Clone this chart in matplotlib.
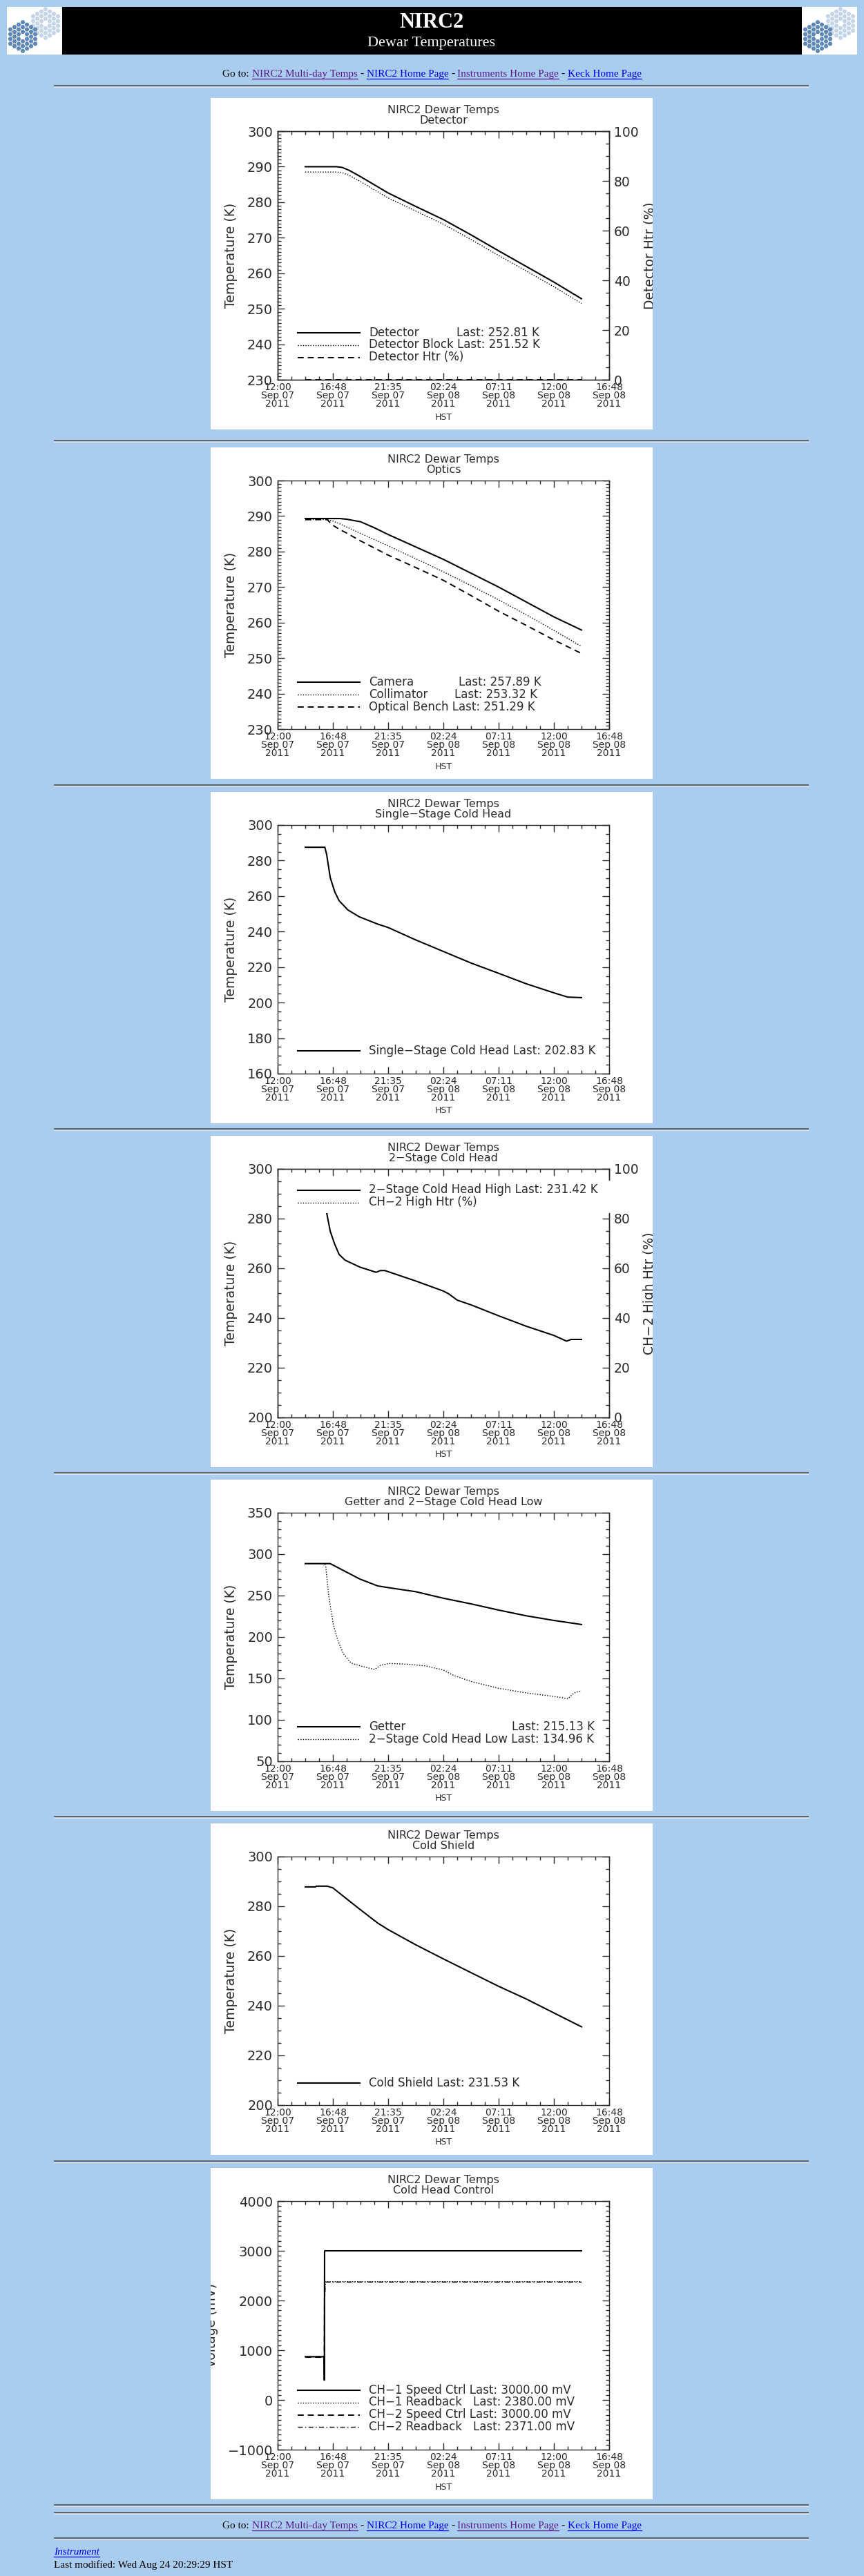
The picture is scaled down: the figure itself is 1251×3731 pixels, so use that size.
import numpy as np
import matplotlib
matplotlib.use('Agg')
import matplotlib.pyplot as plt
from matplotlib.patches import Rectangle, RegularPolygon

W, H = 1251, 3731
PAGE_BG = '#AACCEE'
INK = '#2b2b2b'
LINK_BLUE = '#0000EE'
LINK_PURPLE = '#551A8B'
SERIF = 'Liberation Serif'

# x axis: hours after 12:00 HST Sep 07 2011
tick_hours = [0, 4.8, 9.6, 14.4, 19.2, 24.0, 28.8]
tick_labels = ['12:00\nSep 07\n2011', '16:48\nSep 07\n2011', '21:35\nSep 07\n2011',
               '02:24\nSep 08\n2011', '07:11\nSep 08\n2011', '12:00\nSep 08\n2011',
               '16:48\nSep 08\n2011']

# Detector
t_det = [2.4, 5.1, 5.6, 6.2, 7.2, 8.4, 9.6, 12.0, 14.4, 16.8, 19.2, 21.6, 24.0, 26.4]
detector = [290.0, 290.0, 289.8, 289.0, 287.2, 284.9, 282.6, 278.8, 275.1, 270.8, 266.3, 261.9, 257.5, 252.8]
detector_block = [288.5, 288.5, 288.3, 287.6, 285.8, 283.5, 281.2, 277.5, 273.8, 269.5, 265.0, 260.6, 256.2, 251.5]
t_htr = [2.4, 26.4]
detector_htr = [0, 0]

# Optics
t_opt = [2.4, 4.3, 4.8, 5.4, 6.0, 7.2, 8.4, 9.6, 12.0, 14.4, 16.8, 19.2, 21.6, 24.0, 26.4]
camera = [289.3, 289.3, 289.3, 289.3, 289.1, 288.4, 286.7, 284.8, 281.3, 277.8, 273.9, 270.0, 265.8, 261.6, 257.9]
collimator = [289.0, 289.0, 288.6, 287.8, 286.9, 285.1, 283.4, 281.6, 278.0, 274.3, 270.4, 266.4, 262.2, 257.8, 253.3]
optical_bench = [289.0, 289.0, 287.4, 286.2, 285.2, 283.0, 281.0, 279.0, 275.5, 271.9, 267.6, 263.2, 259.2, 255.1, 251.3]

# Single-stage cold head
t_single = [2.4, 4.1, 4.26, 4.57, 4.95, 5.34, 6.1, 7.1, 8.7, 9.6, 12.0, 14.4, 16.8, 19.2, 21.6, 24.0, 25.2, 26.4]
single_stage = [287.5, 287.5, 283.4, 270.4, 262.6, 257.4, 252.2, 248.3, 244.2, 242.3, 235.3, 228.8, 222.3,
                216.5, 210.6, 205.5, 203.1, 202.8]

# 2-stage cold head high
t_two = [2.4, 4.1, 4.26, 4.57, 4.95, 5.34, 5.85, 7.14, 8.55, 8.93, 9.32, 12.0, 14.37, 14.84, 15.6, 16.8,
         19.2, 21.6, 24.0, 25.1, 25.5, 26.4]
two_stage_high = [288.0, 288.0, 282.3, 274.9, 269.8, 265.6, 263.3, 260.5, 258.4, 259.1, 259.1, 254.9, 250.9,
                  249.8, 247.2, 245.3, 240.9, 236.7, 233.0, 230.7, 231.4, 231.4]
ch2_high_htr = [0, 0]

# Getter and 2-stage cold head low
t_getter = [2.4, 4.57, 5.6, 7.14, 8.68, 9.57, 12.0, 14.37, 16.8, 19.2, 21.6, 24.0, 26.4]
getter = [288.6, 288.6, 281.1, 270.0, 261.7, 259.7, 254.7, 246.9, 240.0, 232.5, 225.6, 220.0, 215.1]
t_low = [2.4, 4.06, 4.18, 4.44, 4.83, 5.21, 5.72, 6.37, 7.39, 8.42, 8.93, 9.70, 11.24, 12.78, 14.37, 15.35,
         16.8, 19.2, 21.6, 24.0, 25.23, 25.74, 26.4]
two_stage_low = [288.6, 288.6, 285.3, 249.2, 215.8, 196.4, 179.7, 168.6, 164.4, 160.8, 165.8, 168.1, 167.2,
                 165.3, 160.3, 153.3, 146.4, 138.1, 132.5, 128.3, 125.6, 132.5, 135.0]

# Cold shield
t_shield = [2.4, 3.3, 3.35, 4.3, 4.8, 6.1, 7.14, 8.68, 9.57, 12.0, 14.37, 16.8, 19.2, 21.6, 24.0, 26.4]
cold_shield = [287.8, 287.8, 288.1, 288.1, 287.4, 282.6, 278.8, 273.3, 270.7, 264.5, 258.9, 253.3, 247.8,
               242.7, 237.1, 231.5]

# Cold head control (mV)
t_ctrl = [2.4, 4.04, 4.06, 4.08, 26.4]
ch1_speed = [870, 870, 400, 3000, 3000]
ch2_speed = [860, 860, 400, 3000, 3000]
t_rb = [2.4, 4.04, 4.06, 4.08, 4.10, 4.14, 26.4]
ch1_readback = [865, 865, 400, 2950, 2100, 2380, 2380]
ch2_readback = [870, 870, 420, 2990, 2050, 2371, 2371]

panel_tops = [142, 648, 1147, 1645, 2143, 2641, 3140]

SOLID = dict(color='black', lw=1.5, ls='-')
DOT = dict(color='black', lw=1.0, ls=(0, (1, 1.6)))
DASH = dict(color='black', lw=1.4, ls=(0, (4.5, 3)))
DASHDOT = dict(color='black', lw=1.0, ls=(0, (5, 2.5, 1, 2.5)))

fig = plt.figure(figsize=(W / 100, H / 100), dpi=100, facecolor=PAGE_BG)
page = fig.add_axes([0, 0, 1, 1])
page.set_zorder(-5)
page.set_xlim(0, W)
page.set_ylim(H, 0)
page.axis('off')
renderer = fig.canvas.get_renderer()


def keck_logo(x0):
    for cx, cy, col in [(x0 + 56, 34, '#C5D5E7'), (x0 + 23, 53, '#5F88B6')]:
        for q in range(-3, 4):
            for r in range(-3, 4):
                if max(abs(q), abs(r), abs(q + r)) in (1, 2, 3):
                    page.add_patch(RegularPolygon((cx + 6.0 * q, cy + 6.93 * (r + q / 2)), 6, radius=3.4,
                                                  orientation=np.pi / 6, color=col, lw=0))


def hr(y):
    page.plot([78, 1171], [y, y], color='#5a5a5a', lw=1.3, solid_capstyle='butt')
    page.plot([78, 1171], [y + 1.6, y + 1.6], color='#e6e6e6', lw=0.8, solid_capstyle='butt')


def text_width(s, **kw):
    t1 = page.text(0, 0, '|' + s + '|', **kw)
    t2 = page.text(0, 0, '||', **kw)
    w = t1.get_window_extent(renderer).width - t2.get_window_extent(renderer).width
    t1.remove()
    t2.remove()
    return w


def nav_line(base_y):
    kw = dict(family=SERIF, fontsize=11)
    tokens = [('Go to:', 'black', False), ('NIRC2 Multi-day Temps', LINK_PURPLE, True), ('-', 'black', False),
              ('NIRC2 Home Page', LINK_BLUE, True), ('-', 'black', False),
              ('Instruments Home Page', LINK_PURPLE, True), ('-', 'black', False),
              ('Keck Home Page', LINK_BLUE, True)]
    sp = text_width(' ', **kw)
    widths = [text_width(s, **kw) for s, _, _ in tokens]
    total = sum(widths) + sp * (len(tokens) - 1)
    x = 625.5 - total / 2
    for (s, c, ul), w in zip(tokens, widths):
        page.text(x, base_y, s, color=c, va='baseline', ha='left', **kw)
        if ul:
            page.plot([x, x + w], [base_y + 3, base_y + 3], color=c, lw=0.9)
        x += w + sp


# header
page.add_patch(Rectangle((90, 10), 1071, 69, color='black', lw=0))
for x0 in (10, 1161):
    page.add_patch(Rectangle((x0, 10), 80, 69, color='white', lw=0))
    keck_logo(x0)
page.text(625, 33, 'NIRC2', color='white', family=SERIF, weight='bold', fontsize=22, ha='center', va='center')
page.text(625, 63, 'Dewar Temperatures', color='white', family=SERIF, fontsize=16, ha='center', va='center')
nav_line(111)
for y in [124, 638, 1137, 1635, 2133, 2631, 3130, 3628, 3639, 3676]:
    hr(y)
nav_line(3662)
page.text(78, 3700, 'Instrument', color=LINK_BLUE, family=SERIF, style='italic', fontsize=11, va='baseline')
page.plot([78, 78 + text_width('Instrument', family=SERIF, style='italic', fontsize=11)], [3703, 3703],
          color=LINK_BLUE, lw=0.9)
page.text(78, 3719, 'Last modified: Wed Aug 24 20:29:29 HST', color='black', family=SERIF, fontsize=11,
          va='baseline')


def panel(top, subtitle, ylim, ymajor, yminor, ylabel='Temperature (K)', ylabel_x=30):
    rect = [305 / W, 1 - (top + 480) / H, 640 / W, 480 / H]
    bg = fig.add_axes(rect)
    bg.set_facecolor('white')
    bg.set_xticks([])
    bg.set_yticks([])
    for s in bg.spines.values():
        s.set_visible(False)
    ax = fig.add_axes([(305 + 97) / W, 1 - (top + 408) / H, 480 / W, 360 / H])
    ax.set_facecolor('none')
    ax.set_xlim(0, 28.8)
    ax.set_ylim(*ylim)
    ax.set_xticks(tick_hours, tick_labels, linespacing=0.8)
    ax.set_xticks(np.arange(0, 28.81, 1.2), minor=True)
    ax.set_yticks(np.arange(ylim[0], ylim[1] + 0.01, ymajor))
    ax.set_yticks(np.arange(ylim[0], ylim[1] + 0.01, yminor), minor=True)
    ax.tick_params(which='both', direction='in', top=True, right=True, colors=INK, width=1)
    ax.tick_params(which='major', length=7.5)
    ax.tick_params(which='minor', length=3.5)
    ax.tick_params(axis='y', labelsize=14, pad=5)
    ax.tick_params(axis='x', labelsize=10, pad=3)
    for s in ax.spines.values():
        s.set_color(INK)
        s.set_linewidth(1)
    ov = fig.add_axes(rect)
    ov.set_zorder(5)
    ov.set_xlim(0, 640)
    ov.set_ylim(480, 0)
    ov.axis('off')
    ov.text(337, 17.5, 'NIRC2 Dewar Temps', fontsize=11.5, color=INK, ha='center', va='center')
    ov.text(337, 32.5, subtitle, fontsize=11.5, color=INK, ha='center', va='center')
    ov.text(337, 462, 'HST', fontsize=9, color=INK, ha='center', va='center')
    ov.text(ylabel_x, 228, ylabel, fontsize=13.5, color=INK, rotation=90, ha='center', va='center',
            clip_on=True, clip_box=ov.bbox)
    return ax, ov


def right_axis(ax, ov, label):
    ax.tick_params(which='both', right=False)
    ax2 = ax.twinx()
    ax2.set_ylim(0, 100)
    ax2.set_yticks(range(0, 101, 20))
    ax2.set_yticks(range(0, 101, 5), minor=True)
    ax2.tick_params(which='both', direction='in', colors=INK, width=1)
    ax2.tick_params(which='major', length=7.5, labelsize=13.5, pad=5)
    ax2.tick_params(which='minor', length=3.5)
    for s in ax2.spines.values():
        s.set_color(INK)
        s.set_linewidth(1)
    ov.text(636, 228, label, fontsize=13.5, color=INK, rotation=90, ha='center', va='center',
            clip_on=True, clip_box=ov.bbox)
    return ax2


def legend_row(ov, y, style, text, last=None, last_x=None):
    ov.plot([126, 216], [y, y], **style)
    ov.text(229, y, text, fontsize=12, color=INK, va='center', ha='left')
    if last is not None:
        ov.text(last_x, y, last, fontsize=12, color=INK, va='center', ha='left')


# 1: Detector
ax, ov = panel(panel_tops[0], 'Detector', (230, 300), 10, 1)
ax2 = right_axis(ax, ov, 'Detector Htr (%)')
ax.plot(t_det, detector, **SOLID)
ax.plot(t_det, detector_block, **DOT)
ax2.plot(t_htr, detector_htr, **DASH)
legend_row(ov, 340, SOLID, 'Detector', 'Last: 252.81 K', 356)
legend_row(ov, 357.5, DOT, 'Detector Block Last: 251.52 K')
legend_row(ov, 375.5, DASH, 'Detector Htr (%)')

# 2: Optics
ax, ov = panel(panel_tops[1], 'Optics', (230, 300), 10, 1)
ax.plot(t_opt, camera, **SOLID)
ax.plot(t_opt, collimator, **DOT)
ax.plot(t_opt, optical_bench, **DASH)
legend_row(ov, 340, SOLID, 'Camera', 'Last: 257.89 K', 359)
legend_row(ov, 358, DOT, 'Collimator', 'Last: 253.32 K', 353)
legend_row(ov, 376, DASH, 'Optical Bench Last: 251.29 K')

# 3: Single-stage cold head
ax, ov = panel(panel_tops[2], 'Single\u2212Stage Cold Head', (160, 300), 20, 5)
ax.plot(t_single, single_stage, **SOLID)
legend_row(ov, 375, SOLID, 'Single\u2212Stage Cold Head Last: 202.83 K')

# 4: 2-stage cold head
ax, ov = panel(panel_tops[3], '2\u2212Stage Cold Head', (200, 300), 20, 5)
ax2 = right_axis(ax, ov, 'CH\u22122 High Htr (%)')
ax.plot(t_two, two_stage_high, **SOLID)
ax2.plot(t_htr, ch2_high_htr, **DOT)
ov.add_patch(Rectangle((110, 65), 482, 47, facecolor='white', edgecolor='none', zorder=0.5))
legend_row(ov, 78.5, SOLID, '2\u2212Stage Cold Head High Last: 231.42 K')
legend_row(ov, 96.5, DOT, 'CH\u22122 High Htr (%)')

# 5: Getter and 2-stage low
ax, ov = panel(panel_tops[4], 'Getter and 2\u2212Stage Cold Head Low', (50, 350), 50, 10)
ax.plot(t_getter, getter, **SOLID)
ax.plot(t_low, two_stage_low, **DOT)
legend_row(ov, 357.5, SOLID, 'Getter', 'Last: 215.13 K', 436)
legend_row(ov, 376, DOT, '2\u2212Stage Cold Head Low Last: 134.96 K')

# 6: Cold shield
ax, ov = panel(panel_tops[5], 'Cold Shield', (200, 300), 20, 5)
ax.plot(t_shield, cold_shield, **SOLID)
legend_row(ov, 375.5, SOLID, 'Cold Shield Last: 231.53 K')

# 7: Cold head control
ax, ov = panel(panel_tops[6], 'Cold Head Control', (-1000, 4000), 1000, 100,
               ylabel='Voltage (mV)', ylabel_x=2)
ax.plot(t_ctrl, ch1_speed, **SOLID)
ax.plot(t_rb, ch1_readback, **DOT)
ax.plot(t_ctrl, ch2_speed, **DASH)
ax.plot(t_rb, ch2_readback, **DASHDOT)
legend_row(ov, 322, SOLID, 'CH\u22121 Speed Ctrl Last: 3000.00 mV')
legend_row(ov, 339.5, DOT, 'CH\u22121 Readback', 'Last: 2380.00 mV', 380)
legend_row(ov, 357.5, DASH, 'CH\u22122 Speed Ctrl Last: 3000.00 mV')
legend_row(ov, 375, DASHDOT, 'CH\u22122 Readback', 'Last: 2371.00 mV', 380)

fig.savefig('out.png', dpi=100, facecolor=PAGE_BG)
